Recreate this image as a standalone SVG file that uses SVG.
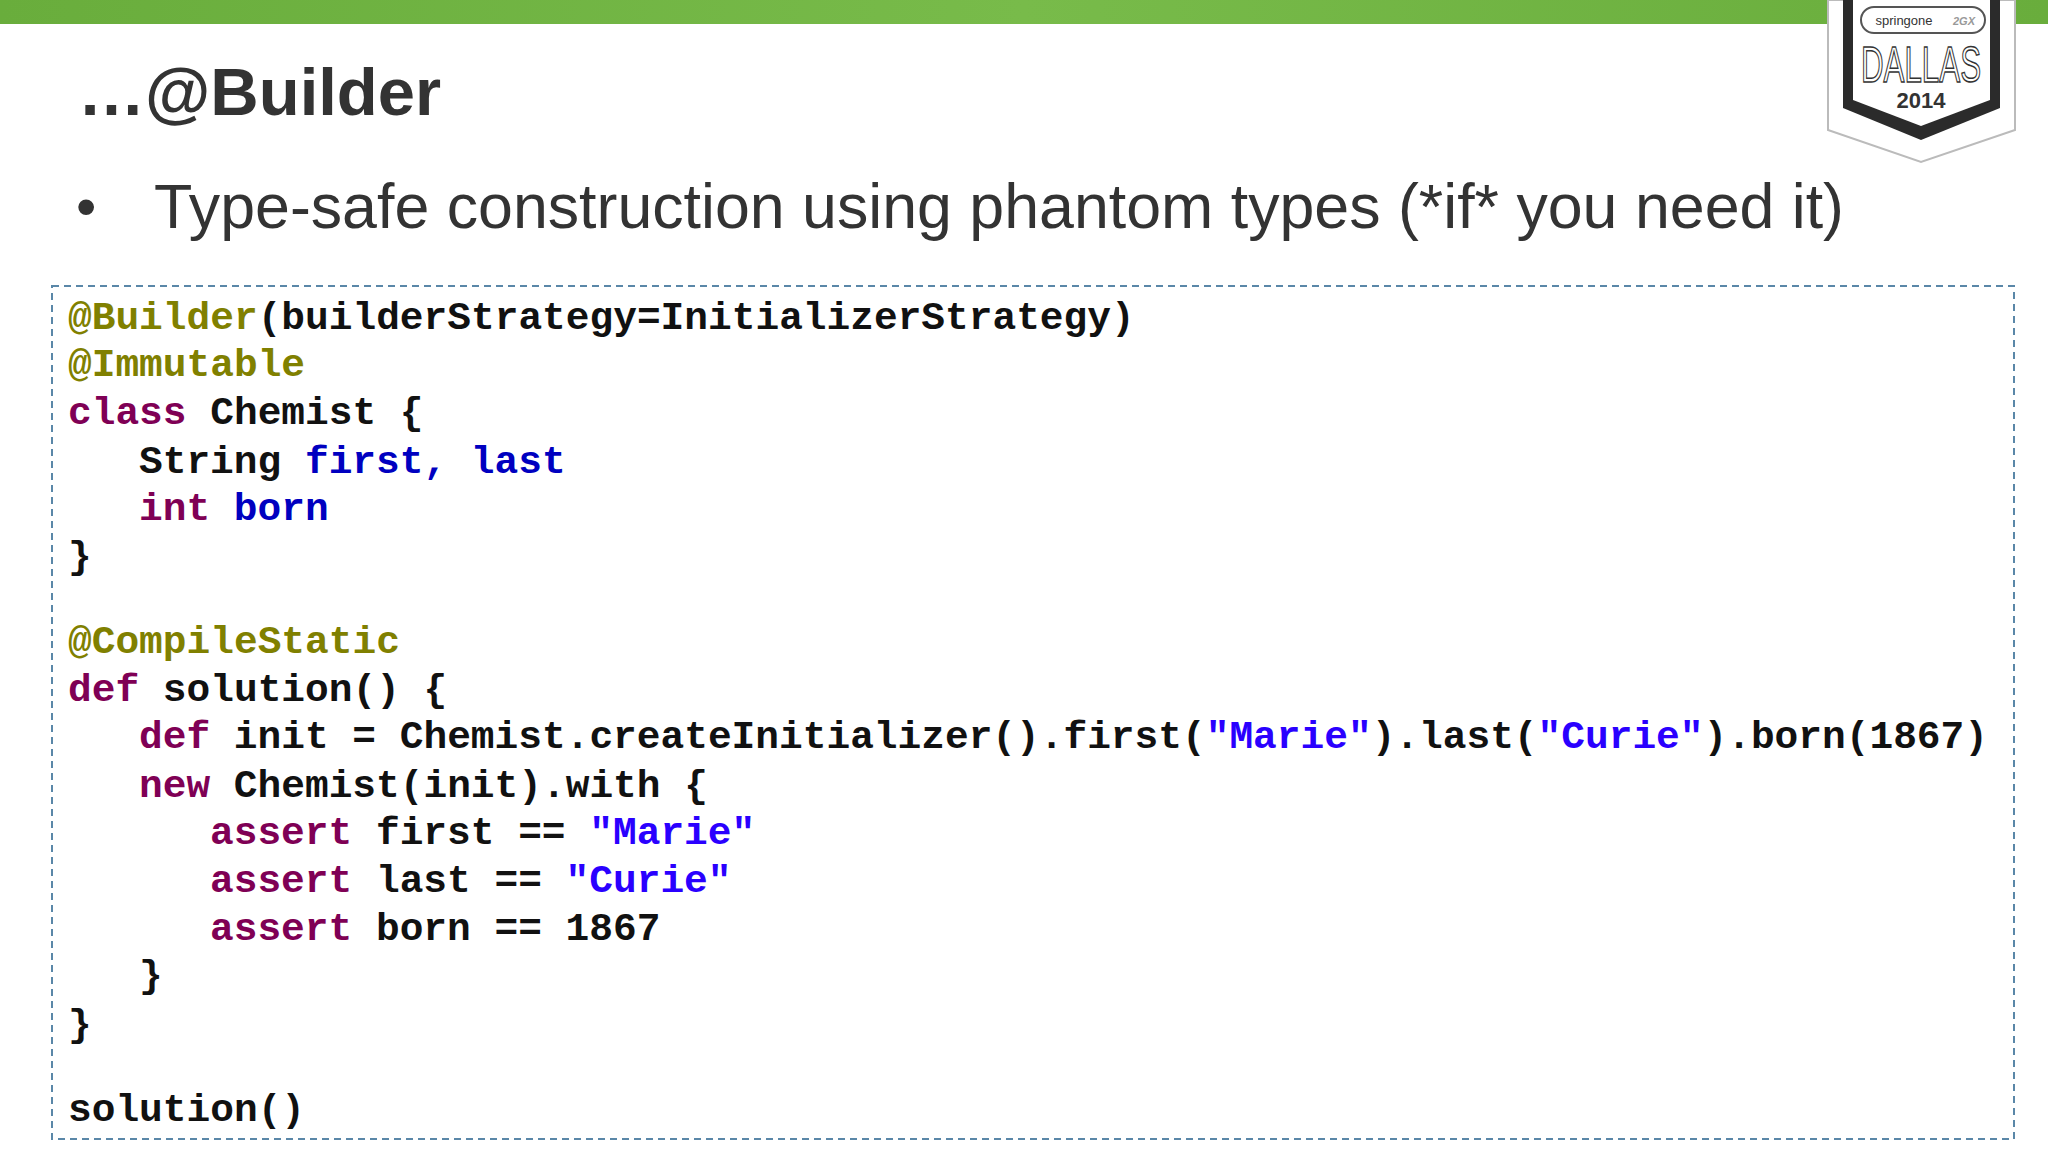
<svg xmlns="http://www.w3.org/2000/svg" width="2048" height="1152" viewBox="0 0 2048 1152">
<defs>
<linearGradient id="g" x1="0" x2="1"><stop offset="0" stop-color="#69ad3c"/><stop offset="0.5" stop-color="#78bb4a"/><stop offset="1" stop-color="#69ad3c"/></linearGradient>
</defs>
<style>
.c{font-family:"Liberation Mono",monospace;font-weight:bold;font-size:39.5px;fill:#111;white-space:pre}
.a{fill:#808000}.k{fill:#7f0055}.b{fill:#0000c0}.s{fill:#2a00ff}
</style>
<rect width="2048" height="1152" fill="#fff"/>
<rect width="2048" height="24" fill="url(#g)"/>
<g id="logo">
<path d="M1828 0 H2015 V130 L1921 162 L1828 130 Z" fill="#fff" stroke="#bbb" stroke-width="2"/>
<path d="M1843 0 H2000 V108 L1921 140 L1843 108 Z" fill="#2b2b2b"/>
<path d="M1853 0 H1990 V100 L1921 126 L1853 100 Z" fill="#fff"/>
<rect x="1861" y="7" width="124" height="26" rx="13" fill="none" stroke="#555" stroke-width="2"/>
<text x="1904" y="25" font-family="Liberation Sans,sans-serif" font-size="13" fill="#333" text-anchor="middle">springone</text>
<text x="1964" y="25" font-family="Liberation Sans,sans-serif" font-size="11" font-style="italic" font-weight="bold" fill="#999" text-anchor="middle">2GX</text>
<text x="1921" y="82" font-family="Liberation Sans Narrow,Liberation Sans,sans-serif" font-size="50" fill="#fff" stroke="#333" stroke-width="1.5" text-anchor="middle" textLength="120" lengthAdjust="spacingAndGlyphs">DALLAS</text>
<text x="1921" y="108" font-family="Liberation Sans Narrow,Liberation Sans,sans-serif" font-weight="bold" font-size="22" fill="#333" text-anchor="middle">2014</text>
</g>
<text x="78" y="115" font-family="Liberation Sans,sans-serif" font-weight="bold" font-size="67" fill="#333">…@Builder</text>
<text x="76" y="226" font-family="Liberation Sans,sans-serif" font-size="58" fill="#333">•</text>
<text x="154" y="228" font-family="Liberation Sans,sans-serif" font-size="62.7" fill="#333">Type-safe construction using phantom types (*if* you need it)</text>
<rect x="52" y="286" width="1962" height="853" fill="none" stroke="#5a87a8" stroke-width="2" stroke-dasharray="7,5"/>
<g class="c">
<text x="68" y="329"><tspan class="a">@Builder</tspan>(builderStrategy=InitializerStrategy)</text>
<text x="68" y="376"><tspan class="a">@Immutable</tspan></text>
<text x="68" y="424"><tspan class="k">class</tspan> Chemist {</text>
<text x="139" y="473">String <tspan class="b">first, last</tspan></text>
<text x="139" y="520"><tspan class="k">int</tspan> <tspan class="b">born</tspan></text>
<text x="68" y="568">}</text>
<text x="68" y="653"><tspan class="a">@CompileStatic</tspan></text>
<text x="68" y="701"><tspan class="k">def</tspan> solution() {</text>
<text x="139" y="748"><tspan class="k">def</tspan> init = Chemist.createInitializer().first(<tspan class="s">"Marie"</tspan>).last(<tspan class="s">"Curie"</tspan>).born(1867)</text>
<text x="139" y="797"><tspan class="k">new</tspan> Chemist(init).with {</text>
<text x="210" y="844"><tspan class="k">assert</tspan> first == <tspan class="s">"Marie"</tspan></text>
<text x="210" y="892"><tspan class="k">assert</tspan> last == <tspan class="s">"Curie"</tspan></text>
<text x="210" y="940"><tspan class="k">assert</tspan> born == 1867</text>
<text x="139" y="987">}</text>
<text x="68" y="1036">}</text>
<text x="68" y="1121">solution()</text>
</g>
</svg>
